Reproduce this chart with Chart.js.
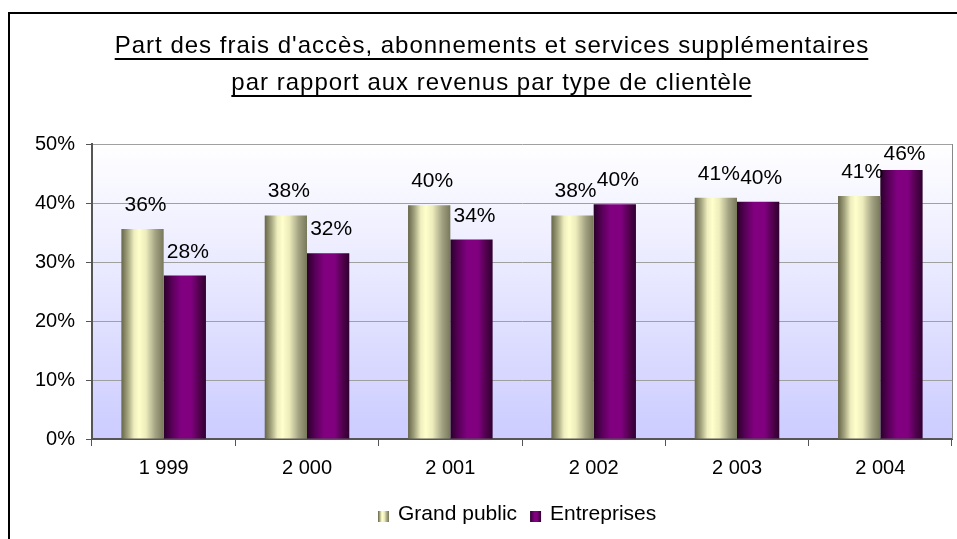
<!DOCTYPE html>
<html>
<head>
<meta charset="utf-8">
<script src="https://cdn.jsdelivr.net/npm/chart.js@4/dist/chart.umd.min.js"></script>
<style>
  html, body { margin: 0; padding: 0; background: #ffffff; overflow: hidden; }
  #c { display: block; }
</style>
</head>
<body>
<canvas id="c" width="957" height="539"></canvas>
<script>
// ---- data ----
const titleLines = [
  "Part des frais d'accès, abonnements et services supplémentaires",
  "par rapport aux revenus par type de clientèle"
];
const categories = ['1 999', '2 000', '2 001', '2 002', '2 003', '2 004'];
const seriesNames = ['Grand public', 'Entreprises'];
const grandPublic = [35.6, 37.9, 39.6, 37.9, 40.9, 41.2];
const entreprises = [27.7, 31.5, 33.8, 39.8, 40.2, 45.6];
const yMin = 0, yMax = 50, yStep = 10;

// ---- styles ----
const FONT = "'Liberation Sans', Arial, sans-serif";
const CAT_PCT = 0.59;
const gpStops = [[0, '#66664a'], [0.15, '#a3a37e'], [0.3, '#eeeebe'], [0.42, '#ffffcc'], [0.58, '#ececbc'], [0.8, '#a4a484'], [1, '#77775a']];
const entStops = [[0, '#2a002a'], [0.2, '#5a005a'], [0.4, '#800080'], [0.65, '#800080'], [0.85, '#50004c'], [1, '#300030']];
const seriesStops = [gpStops, entStops];
const solid = ['#e8e8b8', '#800080'];

function makeGrad(ctx, x0, x1, stops) {
  const g = ctx.createLinearGradient(x0, 0, x1, 0);
  stops.forEach(s => g.addColorStop(s[0], s[1]));
  return g;
}

function barFill(context) {
  const chart = context.chart;
  const area = chart.chartArea;
  const xs = chart.scales && chart.scales.x;
  if (!area || !xs || context.dataIndex === undefined) return solid[context.datasetIndex];
  const center = xs.getPixelForValue(context.dataIndex);
  const w = (area.width / categories.length) * CAT_PCT / 2;
  const x0 = context.datasetIndex === 0 ? center - w : center;
  return makeGrad(chart.ctx, x0, x0 + w, seriesStops[context.datasetIndex]);
}

const decorPlugin = {
  id: 'decor',
  beforeDraw(chart) {
    const ctx = chart.ctx;
    const a = chart.chartArea;
    ctx.save();
    ctx.fillStyle = '#ffffff';
    ctx.fillRect(0, 0, chart.width, chart.height);
    // outer frame (right and bottom edges lie outside the picture)
    ctx.strokeStyle = '#000000';
    ctx.lineWidth = 2;
    ctx.strokeRect(9, 13, 1200, 1200);
    // plot background
    const bg = ctx.createLinearGradient(0, a.top, 0, a.bottom);
    bg.addColorStop(0, '#ffffff');
    bg.addColorStop(1, '#ccccff');
    ctx.fillStyle = bg;
    ctx.fillRect(a.left, a.top, a.right - a.left, a.bottom - a.top);
    // title
    ctx.fillStyle = '#000000';
    ctx.font = '24px ' + FONT;
    ctx.letterSpacing = '1px';
    ctx.textAlign = 'left';
    ctx.textBaseline = 'alphabetic';
    const cx = 492;
    const baselines = [53, 90];
    titleLines.forEach((t, i) => {
      const w = ctx.measureText(t).width;
      const x = cx - w / 2;
      ctx.fillText(t, x, baselines[i]);
      ctx.fillRect(x, baselines[i] + 5, w - 1, 2);
    });
    ctx.restore();
  },
  afterDatasetsDraw(chart) {
    const ctx = chart.ctx;
    const a = chart.chartArea;
    ctx.save();
    // right border of plot area
    ctx.strokeStyle = '#888888';
    ctx.lineWidth = 1;
    ctx.beginPath();
    ctx.moveTo(a.right + 0.5, a.top);
    ctx.lineTo(a.right + 0.5, a.bottom);
    ctx.stroke();
    // data labels
    ctx.font = '21px ' + FONT;
    ctx.fillStyle = '#000000';
    ctx.textAlign = 'center';
    ctx.textBaseline = 'alphabetic';
    chart.data.datasets.forEach((ds, di) => {
      const meta = chart.getDatasetMeta(di);
      meta.data.forEach((bar, i) => {
        const y = Math.max(bar.y - 18, a.top + 16);
        ctx.fillText(Math.round(ds.data[i]) + '%', bar.x + 3, y);
      });
    });
    ctx.restore();
  },
  afterDraw(chart) {
    // legend
    const ctx = chart.ctx;
    ctx.save();
    ctx.font = '21px ' + FONT;
    ctx.fillStyle = '#000000';
    ctx.textBaseline = 'alphabetic';
    ctx.textAlign = 'left';
    let x = 378;
    const base = 520, boxTop = 511, box = 11;
    seriesNames.forEach((name, i) => {
      ctx.fillStyle = makeGrad(ctx, x, x + box, seriesStops[i]);
      ctx.fillRect(x, boxTop, box, box);
      x += box + 9;
      ctx.fillStyle = '#000000';
      ctx.fillText(name, x, base);
      x += ctx.measureText(name).width + 13;
    });
    ctx.restore();
  }
};

new Chart(document.getElementById('c'), {
  type: 'bar',
  data: {
    labels: categories,
    datasets: [
      { label: seriesNames[0], data: grandPublic, backgroundColor: barFill, borderWidth: 0 },
      { label: seriesNames[1], data: entreprises, backgroundColor: barFill, borderWidth: 0 }
    ]
  },
  options: {
    responsive: false,
    animation: false,
    devicePixelRatio: 1,
    layout: { padding: { top: 144, left: 0, right: 5, bottom: 60 } },
    datasets: { bar: { categoryPercentage: CAT_PCT, barPercentage: 1.0 } },
    plugins: {
      legend: { display: false },
      title: { display: false },
      tooltip: { enabled: false }
    },
    scales: {
      x: {
        afterFit(scale) { scale.height = 40; },
        grid: { display: true, offset: true, drawOnChartArea: false, tickLength: 7, color: '#555555', tickColor: '#555555' },
        border: { display: true, color: '#555555', width: 2 },
        ticks: { color: '#000000', font: { family: FONT, size: 20 }, padding: 10, maxRotation: 0 }
      },
      y: {
        min: yMin, max: yMax,
        afterFit(scale) { scale.width = 92; },
        grid: { color: '#a0a0a0', lineWidth: 1, tickLength: 6, tickColor: '#555555' },
        border: { display: true, color: '#555555', width: 2 },
        ticks: {
          stepSize: yStep,
          color: '#000000',
          font: { family: FONT, size: 20 },
          padding: 11,
          callback: v => v + '%'
        }
      }
    }
  },
  plugins: [decorPlugin]
});
</script>
</body>
</html>
